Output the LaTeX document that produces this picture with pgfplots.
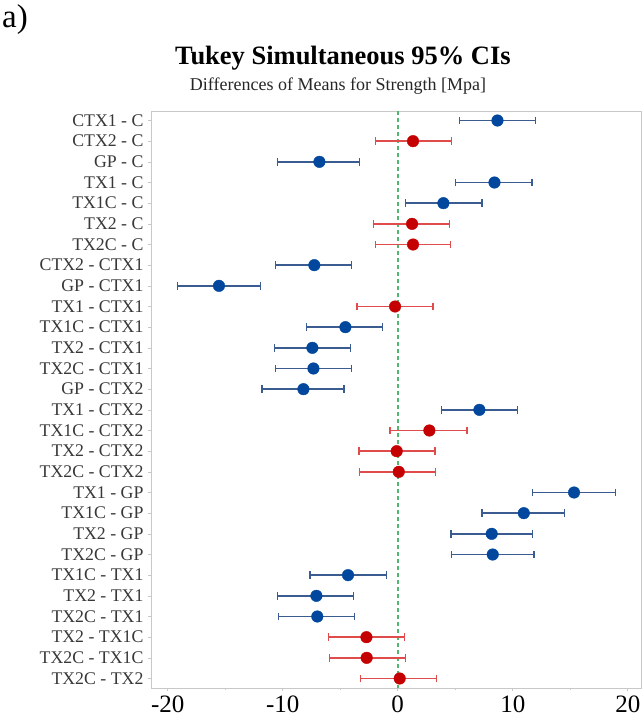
\documentclass[border=0pt]{standalone}
\usepackage{pgfplots}
\pgfplotsset{compat=1.18}
\usepackage{pgfplotstable}
\usepackage{fontspec}
\setmainfont{Liberation Serif}

\definecolor{sigblue}{HTML}{00479D}
\definecolor{sigbar}{HTML}{3A5C90}
\definecolor{nsred}{HTML}{C40000}
\definecolor{nsbar}{HTML}{E04B4B}
\definecolor{refgreen}{HTML}{52B670}
\definecolor{framegray}{HTML}{C8C8C8}

% row  estimate  upper-error  lower-error   (rows numbered from the top)
\pgfplotstableread{
y   x       ep     em
0   8.67    3.33   3.28
2  -6.81    3.51   3.65
3   8.41    3.27   3.37
4   3.97    3.36   3.27
7  -7.25    3.25   3.36
8  -15.54   3.60   3.59
10 -4.55    3.22   3.39
11 -7.42    3.33   3.28
12 -7.33    3.33   3.28
13 -8.20    3.53   3.60
14  7.10    3.31   3.30
18  15.33   3.60   3.62
19  10.96   3.56   3.63
20  8.17    3.57   3.53
21  8.26    3.57   3.56
22 -4.32    3.33   3.30
23 -7.07    3.24   3.39
24 -6.99    3.22   3.39
}\sigtable

\pgfplotstableread{
y   x       ep     em
1   1.33    3.34   3.27
5   1.25    3.24   3.37
6   1.33    3.28   3.27
9  -0.23    3.30   3.31
15  2.75    3.28   3.42
16 -0.09    3.34   3.27
17  0.09    3.21   3.42
25 -2.72    3.30   3.28
26 -2.70    3.37   3.24
27  0.17    3.22   3.39
}\nstable

\begin{document}
\begin{tikzpicture}
\path[use as bounding box] (-151pt,-37pt) rectangle (491pt,688pt);
\begin{axis}[
  at={(0pt,0pt)}, anchor=south west,
  scale only axis, width=490pt, height=577pt,
  xmin=-21.45, xmax=21.15,
  ymin=-0.46, ymax=27.46, y dir=reverse,
  axis line style={framegray, line width=0.8pt},
  xtick={-20,-10,0,10,20},
  minor xtick={-15,-5,5,15},
  ytick={0,...,27},
  yticklabels={CTX1 - C, CTX2 - C, GP - C, TX1 - C, TX1C - C, TX2 - C, TX2C - C,
    CTX2 - CTX1, GP - CTX1, TX1 - CTX1, TX1C - CTX1, TX2 - CTX1, TX2C - CTX1,
    GP - CTX2, TX1 - CTX2, TX1C - CTX2, TX2 - CTX2, TX2C - CTX2,
    TX1 - GP, TX1C - GP, TX2 - GP, TX2C - GP,
    TX1C - TX1, TX2 - TX1, TX2C - TX1, TX2 - TX1C, TX2C - TX1C, TX2C - TX2},
  tick align=outside, major tick length=3pt, minor tick length=2pt,
  tick style={framegray, line width=0.6pt},
  xtick pos=bottom, ytick pos=left,
  /pgf/number format/assume math mode=true,
  xticklabel style={font=\fontsize{25}{25}\selectfont, text=black, yshift=-1pt},
  yticklabel style={font=\fontsize{17.8}{18}\selectfont, text=black!78, xshift=-1pt},
  clip=false,
]
% reference line at zero difference
\addplot[draw=refgreen, line width=1.6pt, dash pattern=on 4pt off 3pt, forget plot]
  coordinates {(0,-0.46) (0,27.46)};

\addplot[only marks, mark=*, mark size=5.8pt,
  mark options={draw=sigblue, fill=sigblue},
  error bars/.cd, x dir=both, x explicit,
  error bar style={sigbar, line width=1.6pt},
  error mark options={sigbar, line width=1.4pt, mark size=3.8pt, rotate=90}]
  table[x=x, y=y, x error plus=ep, x error minus=em] {\sigtable};

\addplot[only marks, mark=*, mark size=5.8pt,
  mark options={draw=nsred, fill=nsred},
  error bars/.cd, x dir=both, x explicit,
  error bar style={nsbar, line width=1.6pt},
  error mark options={nsbar, line width=1.4pt, mark size=3.8pt, rotate=90}]
  table[x=x, y=y, x error plus=ep, x error minus=em] {\nstable};
\end{axis}

\node[anchor=base west, inner sep=0pt, font=\fontsize{33}{33}\selectfont]
  at (-149pt,660pt) {a)};
\node[anchor=base, inner sep=0pt, font=\bfseries\fontsize{26.5}{28}\selectfont]
  at (192pt,623pt) {Tukey Simultaneous 95\% CIs};
\node[anchor=base, inner sep=0pt, font=\fontsize{18}{20}\selectfont, text=black!85]
  at (187pt,597pt) {Differences of Means for Strength [Mpa]};
\end{tikzpicture}
\end{document}
